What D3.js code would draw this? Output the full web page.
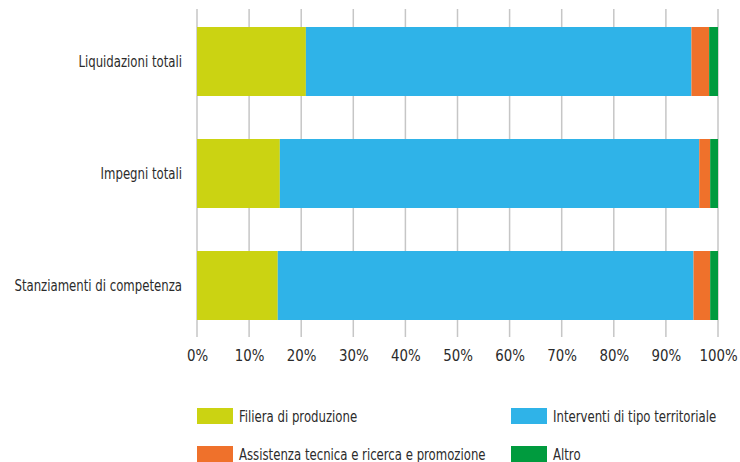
<!DOCTYPE html>
<html>
<head>
<meta charset="utf-8">
<script src="https://cdn.jsdelivr.net/npm/d3@7"></script>
<style>
  body{margin:0;background:#fff;}
  svg text{font-family:"DejaVu Sans Condensed","DejaVu Sans",sans-serif;fill:#2b2b2b;}
</style>
</head>
<body>
<div id="chart"></div>
<script>
// data (percent shares, each row sums to 100)
var categories=["Liquidazioni totali","Impegni totali","Stanziamenti di competenza"];
var seriesNames=["Filiera di produzione","Interventi di tipo territoriale","Assistenza tecnica e ricerca e promozione","Altro"];
var filiera=[20.9,15.9,15.5];
var interventi=[74.0,80.5,79.8];
var assistenza=[3.4,2.1,3.2];
var altro=[1.7,1.5,1.5];
var tickValues=[0,10,20,30,40,50,60,70,80,90,100];

var colors=["#cbd312","#2fb3e8","#ef712b","#009b3e"];
var width=740, height=462;
var left=197, right=718; // plot edges in px
var squeeze=0.79; // the original face is a very condensed one, narrow the text to match

var rows=categories.map(function(c,i){
	return {cat:c, Filiera:filiera[i], Interventi:interventi[i], Assistenza:assistenza[i], Altro:altro[i]};
});
var keys=["Filiera","Interventi","Assistenza","Altro"];
var stacked=d3.stack().keys(keys)(rows);

var svg=d3.select("#chart").append("svg").attr("width",width).attr("height",height);

var x=d3.scaleLinear().domain([0,100]).range([left,right]);
var y=d3.scaleBand().domain(categories).range([27,320]).paddingInner(0.384).paddingOuter(0);

// gridlines
svg.append("g").selectAll("line").data(tickValues).enter().append("line")
	.attr("x1",function(d){return x(d);}).attr("x2",function(d){return x(d);})
	.attr("y1",9).attr("y2",337)
	.attr("stroke","#c6c6c6").attr("stroke-width",1.5);

// bars
svg.append("g").selectAll("g").data(stacked).enter().append("g")
	.attr("fill",function(d,i){return colors[i];})
	.selectAll("rect").data(function(d){return d;}).enter().append("rect")
	.attr("x",function(d){return x(d[0]);})
	.attr("width",function(d){return x(d[1])-x(d[0]);})
	.attr("y",function(d){return y(d.data.cat);})
	.attr("height",y.bandwidth());

// category labels
svg.append("g").selectAll("text").data(categories).enter().append("text")
	.attr("transform",function(d){return "translate(182,"+(y(d)+y.bandwidth()/2)+") scale("+squeeze+",1)";})
	.attr("dy","0.35em").attr("text-anchor","end")
	.style("font-size","16.5px")
	.text(function(d){return d;});

// x axis labels
var xAxis=d3.axisBottom(x).tickValues(tickValues).tickSize(0).tickPadding(0)
	.tickFormat(function(d){return d+"%";});
var ax=svg.append("g").attr("transform","translate(0,349)").call(xAxis);
ax.select(".domain").remove();
ax.selectAll("text").style("font-size","16.5px").attr("fill","#2b2b2b")
	.attr("transform","scale(0.9,1)");

// legend
var legPos=[[197,416],[511,416],[197,454],[511,454]];
var leg=svg.append("g").selectAll("g").data(seriesNames).enter().append("g")
	.attr("transform",function(d,i){return "translate("+legPos[i][0]+","+legPos[i][1]+")";});
leg.append("rect").attr("x",0).attr("y",-8).attr("width",36).attr("height",16)
	.attr("fill",function(d,i){return colors[i];});
leg.append("text").attr("transform","translate(42,0) scale("+squeeze+",1)")
	.attr("dy","0.35em").style("font-size","16.5px")
	.text(function(d){return d;});
</script>
</body>
</html>
